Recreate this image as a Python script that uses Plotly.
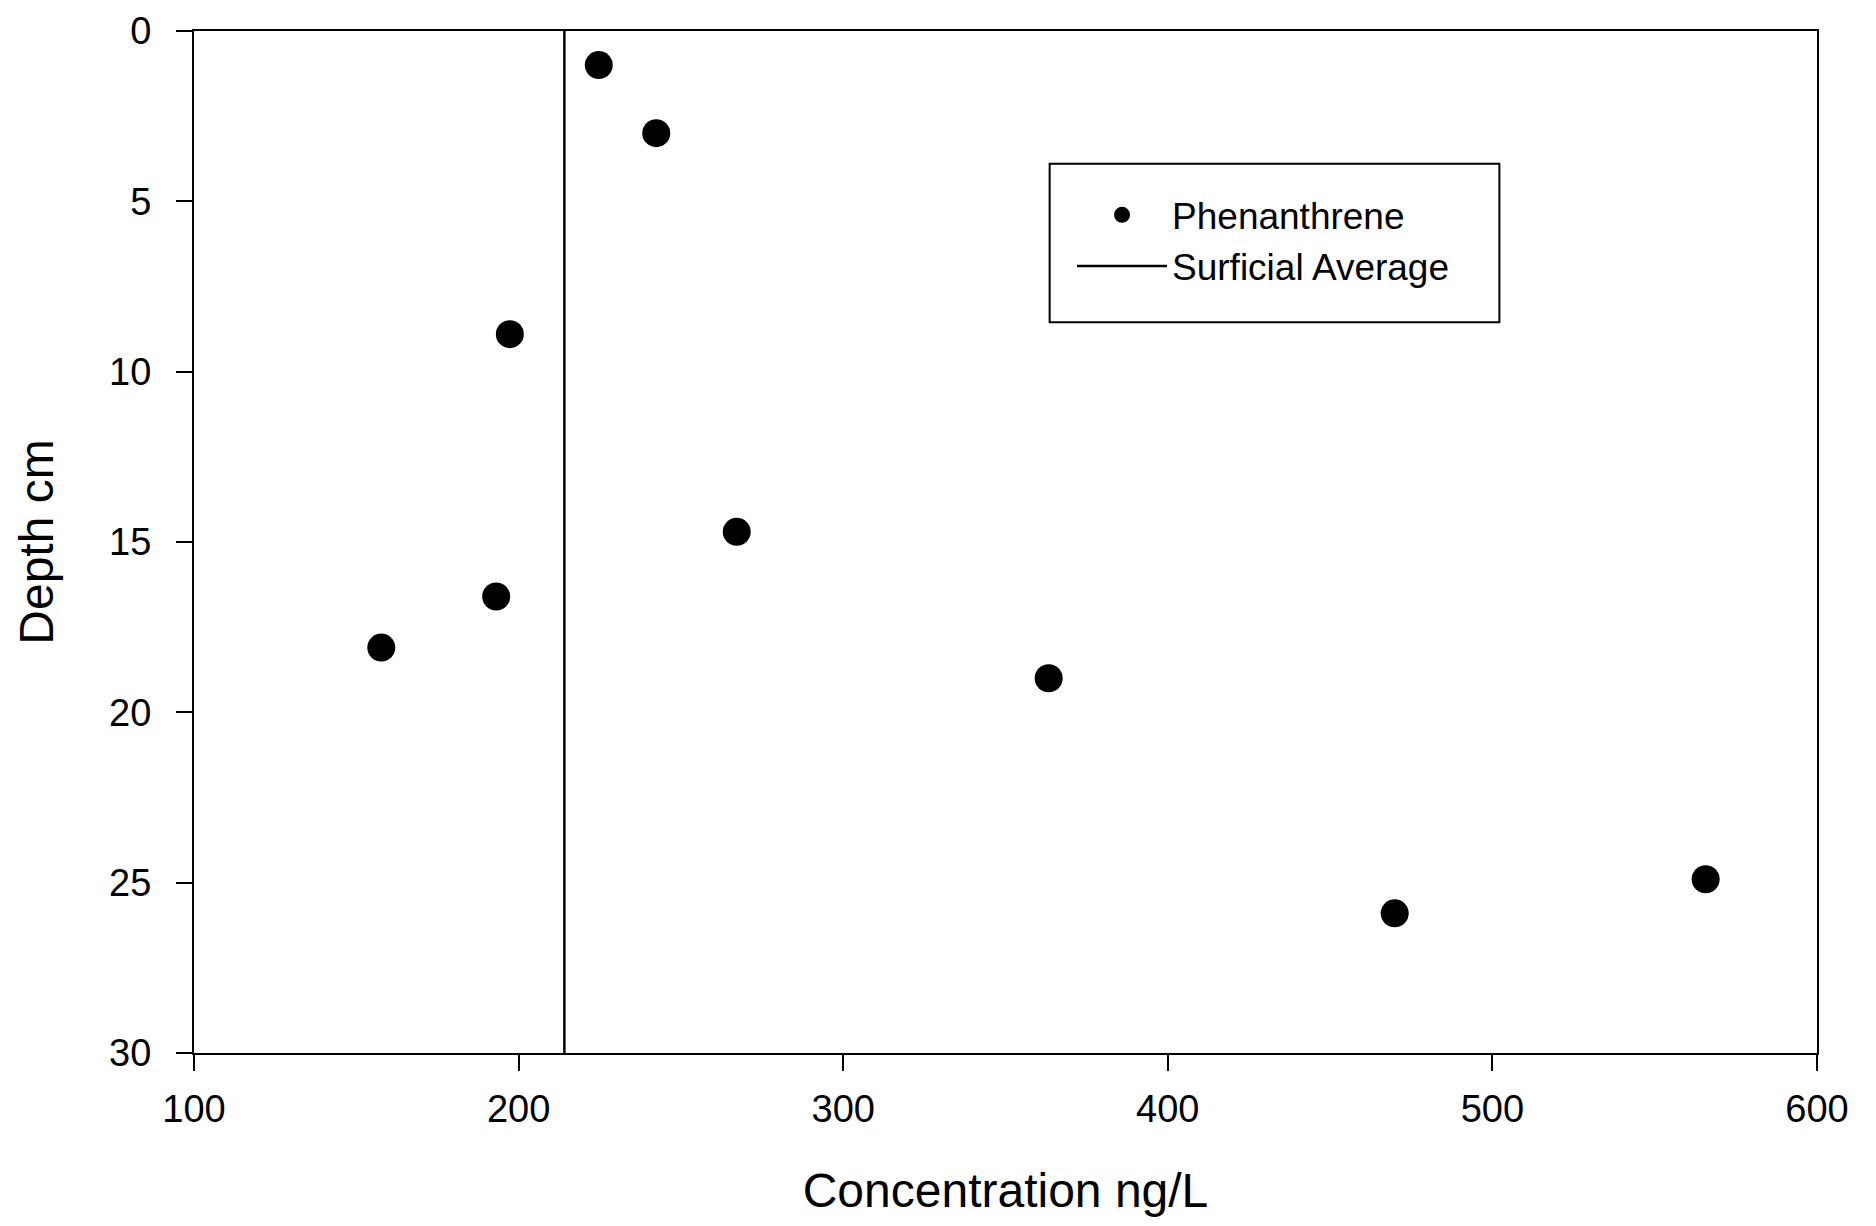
import plotly.graph_objects as go

concentration = [224.7, 242.4, 197.3, 267.2, 193.1, 157.7, 363.3, 469.9, 565.7]
depth = [1.0, 3.0, 8.9, 14.7, 16.6, 18.1, 19.0, 25.9, 24.9]
surficial_average = 214.1
depth_range = [0, 30]
x_ticks = [100, 200, 300, 400, 500, 600]
y_ticks = [0, 5, 10, 15, 20, 25, 30]

FONT = "Liberation Sans, Arial, sans-serif"

fig = go.Figure()
fig.add_trace(go.Scatter(
    x=concentration, y=depth, mode="markers", name="Phenanthrene",
    marker=dict(symbol="circle", size=28, color="black"),
))
fig.add_trace(go.Scatter(
    x=[surficial_average, surficial_average], y=depth_range, mode="lines",
    name="Surficial Average", line=dict(color="black", width=2.5),
))

fig.update_layout(
    width=1860, height=1210,
    margin=dict(l=186, r=51, t=23, b=165),
    paper_bgcolor="white", plot_bgcolor="white",
    font=dict(family=FONT, size=38, color="black"),
    showlegend=True,
    legend=dict(
        x=0.541, y=0.850, xanchor="left", yanchor="top",
        borderwidth=0, bgcolor="rgba(0,0,0,0)",
        font=dict(family=FONT, size=37, color="black"),
        itemwidth=90, tracegroupgap=0,
    ),
    shapes=[dict(
        type="rect", xref="paper", yref="paper",
        x0=0.5272, x1=0.8043, y0=0.7150, y1=0.8700,
        line=dict(color="black", width=2), fillcolor="rgba(0,0,0,0)",
        layer="below",
    )],
    xaxis=dict(
        range=[100, 600], tickvals=x_ticks, ticks="outside", ticklen=16,
        tickwidth=2, tickcolor="black", showline=True, linewidth=2,
        linecolor="black", mirror=True, showgrid=False, zeroline=False,
        tickfont=dict(size=38), automargin=False, ticklabelstandoff=5,
        ticklabeloverflow="allow",
        title=dict(text="Concentration ng/L", font=dict(size=48), standoff=45),
    ),
    yaxis=dict(
        range=[30, 0], tickvals=y_ticks, ticks="outside", ticklen=16,
        tickwidth=2, tickcolor="black", showline=True, linewidth=2,
        linecolor="black", mirror=True, showgrid=False, zeroline=False,
        tickfont=dict(size=38), automargin=False, ticklabelstandoff=17,
        ticklabeloverflow="allow",
        title=dict(text="Depth cm", font=dict(size=48), standoff=40),
    ),
)

fig.write_html("out.html")
